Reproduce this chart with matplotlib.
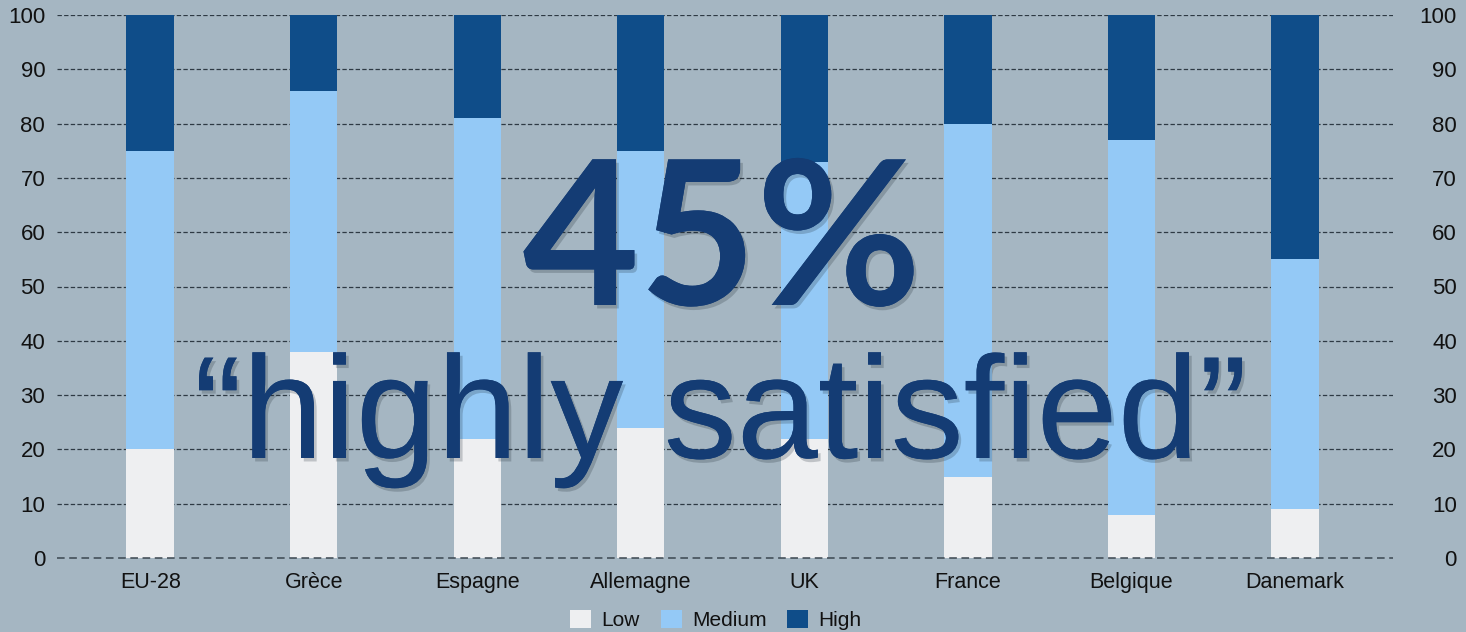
import matplotlib
matplotlib.use("Agg")
import matplotlib.pyplot as plt
import matplotlib.patheffects as pe
import numpy as np

categories = ["EU-28", "Grèce", "Espagne", "Allemagne", "UK", "France", "Belgique", "Danemark"]
low = [20, 38, 22, 24, 22, 15, 8, 9]
medium = [55, 48, 59, 51, 51, 65, 69, 46]
high = [25, 14, 19, 25, 27, 20, 23, 45]
series_names = ["Low", "Medium", "High"]
yticks = [0, 10, 20, 30, 40, 50, 60, 70, 80, 90, 100]
headline = "45%"
subline = "\u201chighly satisfied\u201d"

bg = "#a5b6c2"
c_low = "#eeeff1"
c_med = "#94c9f6"
c_high = "#0f4d89"
c_text = "#143c74"

plt.rcParams["font.family"] = ["Liberation Sans", "DejaVu Sans"]

fig = plt.figure(figsize=(14.66, 6.32), dpi=100, facecolor=bg)
ax = fig.add_axes([57/1466, 1-558/632, (1393-57)/1466, (558-15)/632])
ax.set_facecolor(bg)

x = np.arange(len(categories))
w = 0.29
low_a = np.array(low); med_a = np.array(medium); high_a = np.array(high)
ax.bar(x, low_a, w, color=c_low, label=series_names[0], zorder=2)
ax.bar(x, med_a, w, bottom=low_a, color=c_med, label=series_names[1], zorder=2)
ax.bar(x, high_a, w, bottom=low_a+med_a, color=c_high, label=series_names[2], zorder=2)

ax.set_xlim(-0.57, 7.6)
ax.set_ylim(0, 100)
for t in yticks[1:]:
    ax.axhline(t, color="#2e3a44", lw=0.9, ls=(0, (3.5, 1.8)), zorder=1)
ax.axhline(0, color="#3a4650", lw=1.1, ls=(0, (5, 3)), zorder=3, clip_on=False)

for s in ax.spines.values():
    s.set_visible(False)
ax.set_yticks(yticks)
ax.set_yticklabels([str(t) for t in yticks], fontsize=16, color="#111111")
ax.tick_params(axis="y", length=0, pad=8.5)
ax.set_xticks(x)
ax.set_xticklabels(categories, fontsize=15.5, color="#111111")
ax.tick_params(axis="x", length=0, pad=10)

ax2 = ax.twinx()
ax2.set_ylim(0, 100)
ax2.set_yticks(yticks)
ax2.set_yticklabels([str(t) for t in yticks], fontsize=16, color="#111111", ha="right")
ax2.tick_params(axis="y", length=0, pad=46)
for s in ax2.spines.values():
    s.set_visible(False)

shadow = [pe.withSimplePatchShadow(offset=(2, -2.5), shadow_rgbFace="#1a2630", alpha=0.22), pe.Normal()]
fig.text(722/1466, 1-305/632, headline, fontsize=145, fontweight="bold", color=c_text,
         family=["Lato", "Liberation Sans", "DejaVu Sans"],
         ha="center", va="baseline", path_effects=shadow, zorder=10)
fig.text(721/1466, 1-458/632, subline, fontsize=105, color=c_text,
         ha="center", va="baseline", path_effects=shadow, zorder=10)

leg = fig.legend(loc="center", bbox_to_anchor=(716/1466, 1-620/632), ncol=3, frameon=False,
                 fontsize=15, handlelength=1.0, handleheight=1.0, handletextpad=0.5,
                 columnspacing=1.0)
for t in leg.get_texts():
    t.set_color("#111111")

fig.savefig("out.png", dpi=100, facecolor=bg)
